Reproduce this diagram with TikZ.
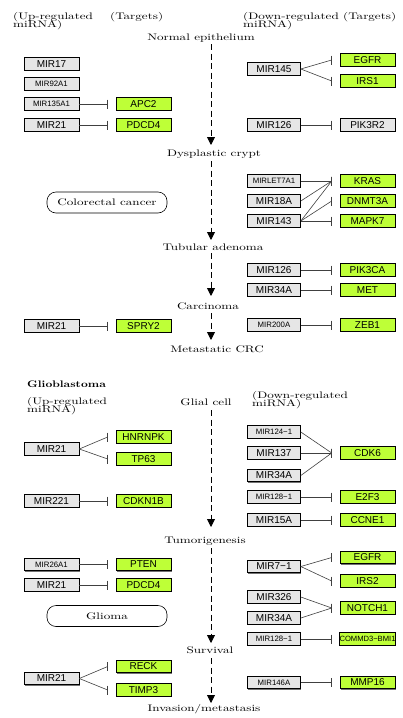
\documentclass[tikz,border=0pt]{standalone}
\usepackage{fontspec}
\usepackage{graphicx}
\usetikzlibrary{arrows.meta,calc,shadows}
\newfontfamily\boxfont{Liberation Sans}
\definecolor{mirgray}{RGB}{230,230,230}
\definecolor{tgreen}{RGB}{190,255,55}
\newcommand\wt[1]{\scalebox{1.38}[1]{#1}}
\newcommand\inh[2]{%
  \draw[edge] (#1.east) -- ($(#2.west)+(-8,0)$);
  \draw[edge] ($(#2.west)+(-8,-4.5)$) -- ($(#2.west)+(-8,4.5)$);}
\begin{document}
\begin{tikzpicture}[x=1pt,y=-1pt,
  mir/.style={draw=black, line width=0.6pt, fill=mirgray, minimum height=12.5pt,
    inner sep=0pt, font=\boxfont\fontsize{10}{12}\selectfont,
    drop shadow={shadow xshift=0.9pt, shadow yshift=-0.9pt, fill=black!55, opacity=1}},
  lmir/.style={mir, minimum width=55pt},
  rmir/.style={mir, minimum width=53pt},
  tgt/.style={mir, fill=tgreen, minimum width=55pt},
  small/.style={font=\boxfont\fontsize{7.8}{9}\selectfont},
  lbl/.style={inner sep=0pt, font=\fontsize{9.5}{10}\selectfont},
  edge/.style={draw=black!75, line width=0.6pt},
  flow/.style={draw=black, line width=0.9pt, dash pattern=on 6pt off 3.5pt,
    -{Triangle[width=8pt,length=8pt]}},
  disease/.style={draw=black, line width=0.6pt, rounded corners=9pt,
    minimum width=120pt, minimum height=21pt, inner sep=0pt,
    font=\fontsize{9.5}{10}\selectfont}]
\fill[white] (0,0) rectangle (402,718);
\useasboundingbox (0,0) rectangle (402,718);

% ---------- Colorectal headers ----------
\node[lbl, anchor=base west] (hUp1) at (13,19) {\wt{(Up-regulated}};
\node[lbl, anchor=base west] (hUp2) at (13,27) {\wt{miRNA)}};
\node[lbl, anchor=base west] (hTg) at (110,19) {\wt{(Targets)}};
\node[lbl, anchor=base west] (hDn1) at (243,19) {\wt{(Down-regulated (Targets)}};
\node[lbl, anchor=base west] (hDn2) at (243,27) {\wt{miRNA)}};

% stage labels
\node[lbl, anchor=base] (sNorm) at (201,40) {\wt{Normal epithelium}};
\node[lbl, anchor=base] (sDys) at (214,156) {\wt{Dysplastic crypt}};
\node[lbl, anchor=base] (sTub) at (213,250) {\wt{Tubular adenoma}};
\node[lbl, anchor=base] (sCar) at (208,309) {\wt{Carcinoma}};
\node[lbl, anchor=base] (sMet) at (217,352) {\wt{Metastatic CRC}};

\coordinate (f1a) at (211,44);  \coordinate (f1b) at (211,145);
\coordinate (f2a) at (211,161); \coordinate (f2b) at (211,240);
\coordinate (f3a) at (211,253); \coordinate (f3b) at (211,296);
\coordinate (f4a) at (211,313); \coordinate (f4b) at (211,340);
\draw[flow] (f1a) -- (f1b);
\draw[flow] (f2a) -- (f2b);
\draw[flow] (f3a) -- (f3b);
\draw[flow] (f4a) -- (f4b);

% boxes
\node[lmir] (c17) at (51.5,64) {MIR17};
\node[lmir,small] (c92) at (51.5,84) {MIR92A1};
\node[lmir,small] (c135) at (51.5,104) {MIR135A1};
\node[tgt] (cAPC2) at (143.5,104) {APC2};
\node[lmir] (c21a) at (51.5,125) {MIR21};
\node[tgt] (cPDCD4) at (143.5,125) {PDCD4};
\node[rmir] (c145) at (274,69) {MIR145};
\node[tgt] (cEGFR) at (367.5,60) {EGFR};
\node[tgt] (cIRS1) at (367.5,81) {IRS1};
\node[rmir] (c126a) at (274,125) {MIR126};
\node[tgt, fill=mirgray] (cPIK3R2) at (367.5,125) {PIK3R2};
\node[rmir,small] (clet7) at (274,181) {MIRLET7A1};
\node[tgt] (cKRAS) at (367.5,181) {KRAS};
\node[rmir] (c18a) at (274,201) {MIR18A};
\node[tgt] (cDNMT3A) at (367.5,201) {DNMT3A};
\node[rmir] (c143) at (274,221) {MIR143};
\node[tgt] (cMAPK7) at (367.5,221) {MAPK7};
\node[disease] (crc) at (107,202.5) {\wt{Colorectal cancer}};
\node[rmir] (c126b) at (274,270) {MIR126};
\node[tgt] (cPIK3CA) at (367.5,270) {PIK3CA};
\node[rmir] (c34a) at (274,290) {MIR34A};
\node[tgt] (cMET) at (367.5,290) {MET};
\node[rmir,small] (c200a) at (274,325) {MIR200A};
\node[tgt] (cZEB1) at (367.5,325) {ZEB1};
\node[lmir] (c21b) at (51.5,326) {MIR21};
\node[tgt] (cSPRY2) at (143.5,326) {SPRY2};

\inh{c135}{cAPC2}
\inh{c21a}{cPDCD4}
\inh{c145}{cEGFR}
\inh{c145}{cIRS1}
\inh{c126a}{cPIK3R2}
\inh{clet7}{cKRAS}
\inh{c18a}{cKRAS}
\inh{c143}{cKRAS}
\inh{c143}{cDNMT3A}
\inh{c143}{cMAPK7}
\inh{c126b}{cPIK3CA}
\inh{c34a}{cMET}
\inh{c200a}{cZEB1}
\inh{c21b}{cSPRY2}

% ---------- Glioblastoma ----------
\node[inner sep=0pt, anchor=base west, font=\fontsize{9.5}{10}\selectfont\bfseries] (gTitle) at (27,387) {\scalebox{1.25}[1]{Glioblastoma}};
\node[lbl, anchor=base west] (gUp1) at (27,404.5) {\wt{(Up-regulated}};
\node[lbl, anchor=base west] (gUp2) at (27,412.5) {\wt{miRNA)}};
\node[lbl, anchor=base west] (gDn1) at (252,398) {\wt{(Down-regulated}};
\node[lbl, anchor=base west] (gDn2) at (252,406) {\wt{miRNA)}};

\node[lbl, anchor=base] (sGlial) at (206,405.5) {\wt{Glial cell}};
\node[lbl, anchor=base] (sTum) at (205,543) {\wt{Tumorigenesis}};
\node[lbl, anchor=base] (sSurv) at (210,653) {\wt{Survival}};
\node[lbl, anchor=base] (sInv) at (204,711) {\wt{Invasion/metastasis}};

\coordinate (f5a) at (211,410); \coordinate (f5b) at (211,527);
\coordinate (f6a) at (211,548); \coordinate (f6b) at (211,643);
\coordinate (f7a) at (211,658); \coordinate (f7b) at (211,703);
\draw[flow] (f5a) -- (f5b);
\draw[flow] (f6a) -- (f6b);
\draw[flow] (f7a) -- (f7b);

\node[lmir] (g21a) at (51.5,449) {MIR21};
\node[tgt] (gHNRNPK) at (143.5,437) {HNRNPK};
\node[tgt] (gTP63) at (143.5,459) {TP63};
\node[lmir] (g221) at (51.5,501) {MIR221};
\node[tgt] (gCDKN1B) at (143.5,501) {CDKN1B};
\node[lmir,small] (g26a1) at (51.5,564.5) {MIR26A1};
\node[tgt] (gPTEN) at (143.5,564.5) {PTEN};
\node[lmir] (g21b) at (51.5,585) {MIR21};
\node[tgt] (gPDCD4) at (143.5,585) {PDCD4};
\node[disease] (glioma) at (107,616) {\wt{Glioma}};
\node[lmir] (g21c) at (51.5,678.5) {MIR21};
\node[tgt] (gRECK) at (143.5,666.5) {RECK};
\node[tgt] (gTIMP3) at (143.5,690) {TIMP3};

\node[rmir,small] (g124) at (274,432) {MIR124−1};
\node[rmir] (g137) at (274,453) {MIR137};
\node[rmir] (g34a) at (274,475.5) {MIR34A};
\node[tgt] (gCDK6) at (367.5,453) {CDK6};
\node[rmir,small] (g128a) at (274,497) {MIR128−1};
\node[tgt] (gE2F3) at (367.5,497) {E2F3};
\node[rmir] (g15a) at (274,520) {MIR15A};
\node[tgt] (gCCNE1) at (367.5,520) {CCNE1};
\node[rmir] (g71) at (274,566.5) {MIR7−1};
\node[tgt] (gEGFR) at (367.5,557.5) {EGFR};
\node[tgt] (gIRS2) at (367.5,581) {IRS2};
\node[rmir] (g326) at (274,597) {MIR326};
\node[rmir] (g34b) at (274,618) {MIR34A};
\node[tgt] (gNOTCH1) at (367.5,608) {NOTCH1};
\node[rmir,small] (g128b) at (274,639) {MIR128−1};
\node[tgt, font=\boxfont\fontsize{7.6}{9}\selectfont] (gCOMMD) at (367.5,639) {COMMD3−BMI1};
\node[rmir,small] (g146a) at (274,682.5) {MIR146A};
\node[tgt] (gMMP16) at (367.5,682.5) {MMP16};

\inh{g21a}{gHNRNPK}
\inh{g21a}{gTP63}
\inh{g221}{gCDKN1B}
\inh{g26a1}{gPTEN}
\inh{g21b}{gPDCD4}
\inh{g21c}{gRECK}
\inh{g21c}{gTIMP3}
\inh{g124}{gCDK6}
\inh{g137}{gCDK6}
\inh{g34a}{gCDK6}
\inh{g128a}{gE2F3}
\inh{g15a}{gCCNE1}
\inh{g71}{gEGFR}
\inh{g71}{gIRS2}
\inh{g326}{gNOTCH1}
\inh{g34b}{gNOTCH1}
\inh{g128b}{gCOMMD}
\inh{g146a}{gMMP16}
\end{tikzpicture}
\end{document}
